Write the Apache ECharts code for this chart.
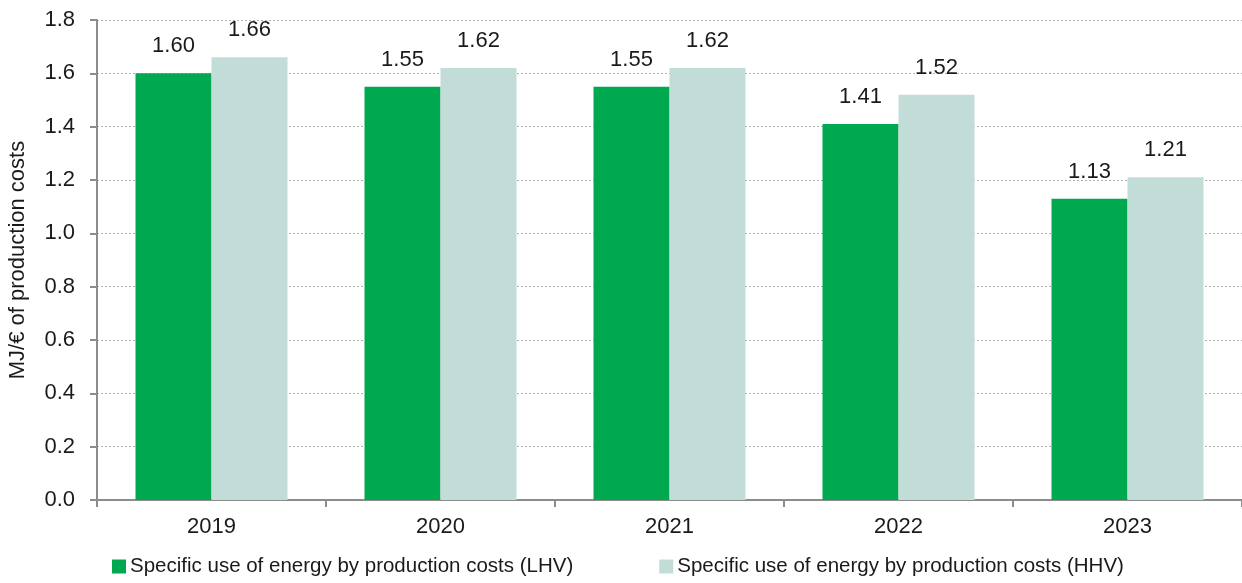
<!DOCTYPE html>
<html>
<head>
<meta charset="utf-8">
<script src="https://cdn.jsdelivr.net/npm/echarts@6/dist/echarts.min.js"></script>
<style>
  html, body { margin: 0; padding: 0; background: #fff; }
  #chart { width: 1242px; height: 583px; }
</style>
</head>
<body>
<div id="chart"></div>
<script>
const years = ['2019', '2020', '2021', '2022', '2023'];
const lhvValues = [1.60, 1.55, 1.55, 1.41, 1.13];
const hhvValues = [1.66, 1.62, 1.62, 1.52, 1.21];
const seriesNames = [
  'Specific use of energy by production costs (LHV)',
  'Specific use of energy by production costs (HHV)'
];
const yAxisTitle = 'MJ/€ of production costs';

const FONT = '"Liberation Sans", Arial, sans-serif';
const axisGray = '#8c8c8c';
const textColor = '#1a1a1a';

const chart = echarts.init(document.getElementById('chart'));

const labelStyle = {
  show: true,
  position: 'top',
  distance: 16,
  fontFamily: FONT,
  fontSize: 22,
  color: textColor,
  formatter: p => p.value.toFixed(2)
};

chart.setOption({
  animation: false,
  textStyle: { fontFamily: FONT },
  grid: { left: 97, right: 0, top: 20, bottom: 83, containLabel: false, outerBoundsMode: 'none' },
  legend: {
    bottom: 6,
    left: 112,
    padding: 0,
    itemWidth: 14,
    itemHeight: 14,
    itemGap: 86,
    icon: 'rect',
    textStyle: { fontFamily: FONT, fontSize: 20.5, color: textColor, padding: [0, 0, 0, -1] },
    data: seriesNames
  },
  xAxis: {
    type: 'category',
    data: years,
    axisLine: { lineStyle: { color: axisGray, width: 2 } },
    axisTick: { show: true, length: 7, lineStyle: { color: axisGray, width: 2 } },
    axisLabel: { fontFamily: FONT, fontSize: 22, color: textColor, margin: 16 }
  },
  yAxis: {
    type: 'value',
    min: 0,
    max: 1.8,
    interval: 0.2,
    name: yAxisTitle,
    nameLocation: 'middle',
    nameGap: 68,
    nameTextStyle: { fontFamily: FONT, fontSize: 22, color: textColor },
    axisLine: { show: true, lineStyle: { color: axisGray, width: 2 } },
    axisTick: { show: true, length: 7, lineStyle: { color: axisGray, width: 2 } },
    axisLabel: { fontFamily: FONT, fontSize: 22, color: textColor, margin: 22, formatter: v => v.toFixed(1) },
    splitLine: { show: true, lineStyle: { color: '#b0b0b0', type: [2, 2], width: 1 } }
  },
  series: [
    {
      name: seriesNames[0],
      type: 'bar',
      data: lhvValues,
      barWidth: 76,
      barGap: '0%',
      barCategoryGap: '33%',
      itemStyle: { color: '#00a94f' },
      label: labelStyle
    },
    {
      name: seriesNames[1],
      type: 'bar',
      data: hhvValues,
      barWidth: 76,
      barGap: '0%',
      itemStyle: { color: '#c2dcd7' },
      label: labelStyle
    }
  ]
});
</script>
</body>
</html>
